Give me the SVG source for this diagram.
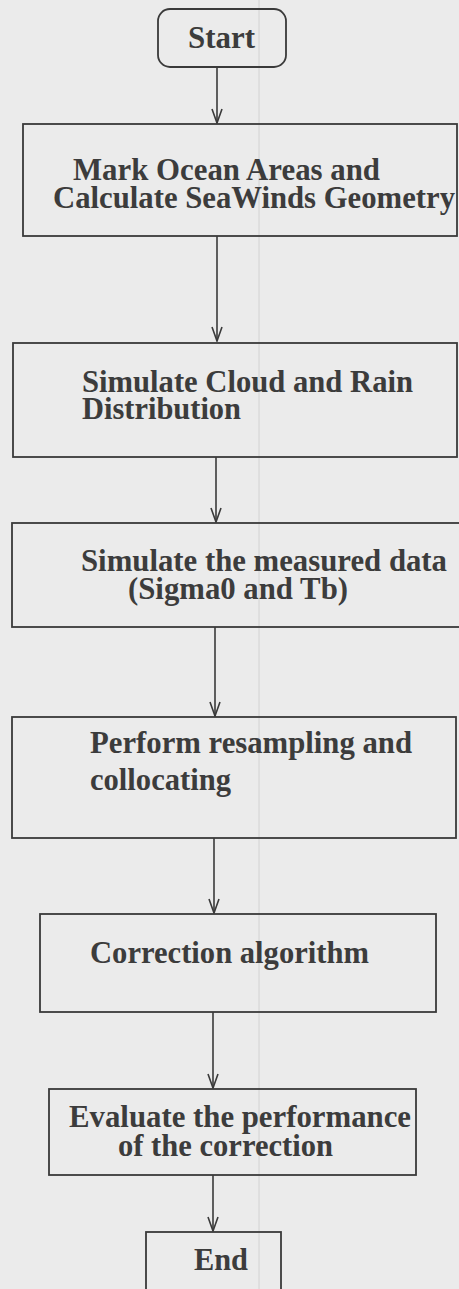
<svg xmlns="http://www.w3.org/2000/svg" width="459" height="1289" viewBox="0 0 459 1289">
<style>
.box{fill:none;stroke:#3a3a3a;stroke-width:1.8}
.lbl{font-family:"Liberation Serif","Times New Roman",serif;font-weight:bold;font-size:30.5px;fill:#3c3c3c}
.conn{fill:none;stroke:#3a3a3a;stroke-width:1.6}
.ah{fill:none;stroke:#3a3a3a;stroke-width:1.6;stroke-linejoin:miter}
</style>
<defs>
<marker id="arrow" markerUnits="userSpaceOnUse" viewBox="-1 -1 16 12" markerWidth="16" markerHeight="12" refX="14" refY="5" orient="auto">
<path class="ah" d="M0,0 L14,5 L0,10"/>
</marker>
</defs>
<rect x="0" y="0" width="459" height="1289" fill="#ebebeb"/>
<line x1="259" y1="0" x2="259" y2="1289" stroke="#d2d2d2" stroke-width="1"/>
<g id="connectors">
<line class="conn" x1="217" y1="67" x2="217" y2="123" marker-end="url(#arrow)"/>
<line class="conn" x1="217" y1="236" x2="217" y2="341" marker-end="url(#arrow)"/>
<line class="conn" x1="216" y1="457" x2="216" y2="522" marker-end="url(#arrow)"/>
<line class="conn" x1="215" y1="627" x2="215" y2="716" marker-end="url(#arrow)"/>
<line class="conn" x1="214" y1="838" x2="214" y2="913" marker-end="url(#arrow)"/>
<line class="conn" x1="213" y1="1012" x2="213" y2="1088" marker-end="url(#arrow)"/>
<line class="conn" x1="213" y1="1175" x2="213" y2="1231" marker-end="url(#arrow)"/>
</g>
<g id="start">
<rect class="box" x="158" y="9" width="128" height="58" rx="12" ry="12"/>
<text class="lbl" x="188" y="48" textLength="67" lengthAdjust="spacingAndGlyphs">Start</text>
</g>
<g id="mark-ocean">
<rect class="box" x="23" y="124" width="434" height="112"/>
<text class="lbl" x="73" y="180" textLength="307" lengthAdjust="spacingAndGlyphs">Mark Ocean Areas and</text>
<text class="lbl" x="53" y="208" textLength="402" lengthAdjust="spacingAndGlyphs">Calculate SeaWinds Geometry</text>
</g>
<g id="simulate-cloud">
<rect class="box" x="13" y="343" width="444" height="114"/>
<text class="lbl" x="82" y="392" textLength="331" lengthAdjust="spacingAndGlyphs">Simulate Cloud and Rain</text>
<text class="lbl" x="82" y="419" textLength="159" lengthAdjust="spacingAndGlyphs">Distribution</text>
</g>
<g id="simulate-measured">
<rect class="box" x="12" y="523" width="452" height="104"/>
<text class="lbl" x="81" y="571" textLength="366" lengthAdjust="spacingAndGlyphs">Simulate the measured data</text>
<text class="lbl" x="128" y="599" textLength="220" lengthAdjust="spacingAndGlyphs">(Sigma0 and Tb)</text>
</g>
<g id="resampling">
<rect class="box" x="12" y="717" width="444" height="121"/>
<text class="lbl" x="90" y="753" textLength="322" lengthAdjust="spacingAndGlyphs">Perform resampling and</text>
<text class="lbl" x="90" y="790" textLength="141" lengthAdjust="spacingAndGlyphs">collocating</text>
</g>
<g id="correction">
<rect class="box" x="40" y="914" width="396" height="98"/>
<text class="lbl" x="90" y="963" textLength="279" lengthAdjust="spacingAndGlyphs">Correction algorithm</text>
</g>
<g id="evaluate">
<rect class="box" x="49" y="1089" width="367" height="86"/>
<text class="lbl" x="69" y="1127" textLength="342" lengthAdjust="spacingAndGlyphs">Evaluate the performance</text>
<text class="lbl" x="118" y="1156" textLength="215" lengthAdjust="spacingAndGlyphs">of the correction</text>
</g>
<g id="end">
<rect class="box" x="146" y="1232" width="135" height="80"/>
<text class="lbl" x="194" y="1270" textLength="54" lengthAdjust="spacingAndGlyphs">End</text>
</g>
</svg>
